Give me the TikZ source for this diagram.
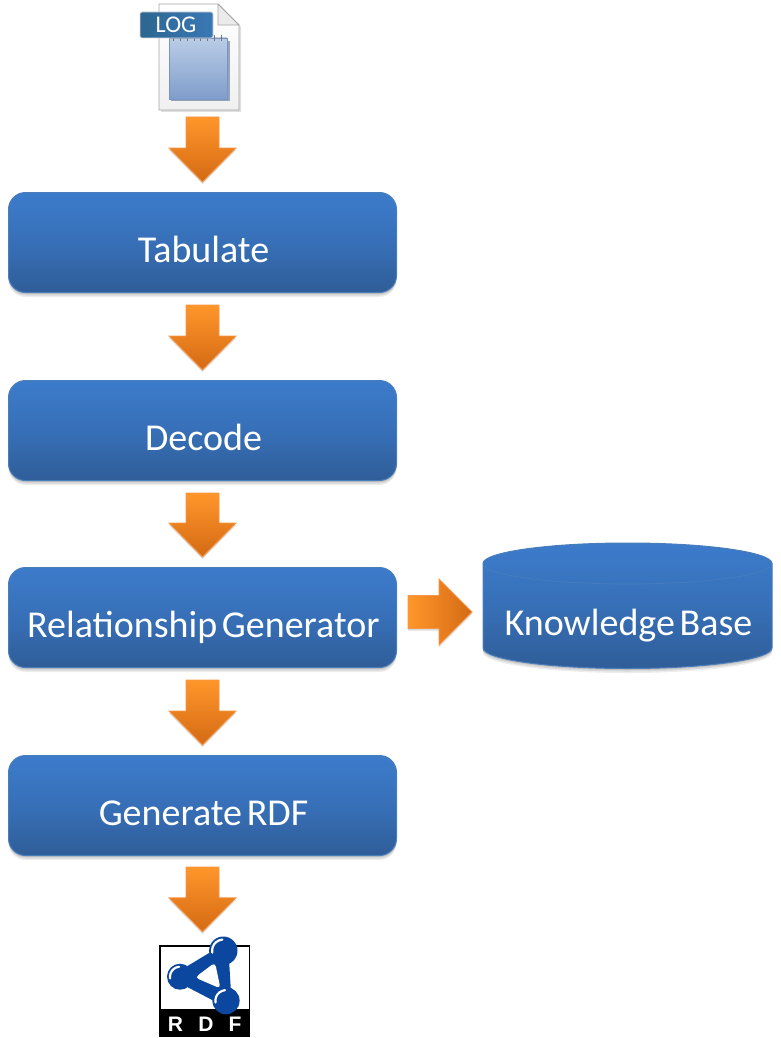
\documentclass[tikz,border=0pt]{standalone}
\usepackage{fontspec}
\setmainfont{Carlito}[WordSpace=0.55]
\newfontfamily\logofont{Liberation Sans}
\usetikzlibrary{calc,shadows}
\definecolor{blueTop}{HTML}{3C7BCB}
\definecolor{blueBot}{HTML}{2F5D98}
\definecolor{blueEdge}{HTML}{4A7EBB}
\definecolor{orTop}{HTML}{FF962A}
\definecolor{orBot}{HTML}{D46A14}
\definecolor{orEdge}{HTML}{F79646}
\definecolor{rdfBlue}{HTML}{0B479E}
\definecolor{padTop}{HTML}{B9CDE6}
\definecolor{padBot}{HTML}{7F9DCB}
\definecolor{padEdge}{HTML}{7C93BC}
\definecolor{tagLeft}{HTML}{2C6690}
\definecolor{tagRight}{HTML}{3A78B6}
\newcommand{\mainlabel}[2]{\raisebox{-#1pt}[0pt][0pt]{\hspace*{2pt}#2}}
\newcommand{\ballmark}[3]{%
  \draw[white,line width=2.2pt,line cap=round]
    (#1-0.985*#3+2.95,#2+0.174*#3-0.52) arc[start angle=190,end angle=95,radius=#3pt-3pt];}
\tikzset{
  softshadow/.style={
    general shadow={shadow xshift=0pt,shadow yshift=-1.5pt,fill=black,opacity=.10},
    general shadow={shadow xshift=0pt,shadow yshift=-3pt,fill=black,opacity=.09},
    general shadow={shadow xshift=0pt,shadow yshift=-4.5pt,fill=black,opacity=.07}},
  boxstyle/.style={softshadow,rounded corners=17pt,minimum width=388pt,minimum height=100pt,
    inner sep=0pt,draw=blueEdge,line width=1pt,top color=blueTop,bottom color=blueBot,
    middle color=blueTop!62!blueBot,text=white,font=\fontsize{38}{42}\selectfont},
  cylstyle/.style={softshadow,draw=blueEdge,line width=1pt,top color=blueTop,bottom color=blueBot,
    middle color=blueTop!62!blueBot},
  arrowV/.style={general shadow={shadow xshift=0pt,shadow yshift=-2pt,fill=black,opacity=.14},
    draw=orEdge,line width=.8pt,line join=miter,top color=orTop,bottom color=orBot},
  arrowH/.style={general shadow={shadow xshift=0pt,shadow yshift=-2pt,fill=black,opacity=.14},
    draw=orEdge,line width=.8pt,line join=miter,left color=orTop,right color=orBot},
  rdfletter/.style={inner sep=0pt,text=white,font=\logofont\bfseries\fontsize{21}{23}\selectfont}
}
\newcommand{\blockdown}[4]{%
  \coordinate (s) at ($(tabulate.north |- #1.south)+(0,#2)$);
  \coordinate (e) at ($(tabulate.north |- #3.north)+(0,-#4)$);
  \path[arrowV] ($(s)+(-16.5,0)$) -- ($(s)+(16.5,0)$) -- ($(e)+(16.5,-34)$) -- ($(e)+(33.5,-34)$)
     -- (e) -- ($(e)+(-33.5,-34)$) -- ($(e)+(-16.5,-34)$) -- cycle;}
\begin{document}
\begin{tikzpicture}[x=1pt,y=-1pt]
\useasboundingbox (0,0) rectangle (780,1038);

% ---------- process boxes
\node[boxstyle] (tabulate) at (202.5,242.5) {\mainlabel{19.5}{Tabulate}};
\node[boxstyle] (decode)   at (202.5,430.5) {\mainlabel{19.5}{Decode}};
\node[boxstyle] (relgen)   at (202.5,617.5) {\mainlabel{19.5}{Relationship Generator}};
\node[boxstyle] (genrdf)   at (202.5,805.5) {\mainlabel{19.5}{Generate RDF}};

% ---------- knowledge base cylinder
\path[cylstyle] (483,563.5) arc[start angle=180,end angle=0,x radius=144.5pt,y radius=20.5pt]
   -- (772,648) arc[start angle=0,end angle=-180,x radius=144.5pt,y radius=20.5pt] -- cycle;
\draw[blueEdge!80!blueTop,line width=.7pt] (483,563.5) arc[start angle=180,end angle=360,x radius=144.5pt,y radius=20.5pt];
\node[inner sep=0pt,minimum width=289pt,minimum height=125pt,text=white,font=\fontsize{38}{42}\selectfont]
  (kb) at (627.5,605.5) {\mainlabel{29.5}{Knowledge Base}};

% ---------- log file icon
\fill[black,opacity=.12] (161,6) -- (220,6) -- (241,27) -- (241,112) -- (161,112) -- cycle;
\path[draw=black!35,line width=.9pt,top color=white,bottom color=black!6]
  (159,4) -- (218,4) -- (239,25) -- (239,110) -- (159,110) -- cycle;
\path[draw=black!35,line width=.8pt,fill=black!8,line join=round] (218,4) -- (218,25) -- (239,25) -- cycle;
\fill[padBot!80!black!70!white] (171,41) rectangle (229.5,101.5);
\path[draw=padEdge,line width=.6pt,top color=padTop,bottom color=padBot] (169,38) rectangle (227,99);
\foreach \i in {0,...,7}{\draw[black!55,line width=.8pt] (173.5+6.8*\i,35.5) -- (173.5+6.8*\i,41);}
\path[draw=black!15,line width=.7pt,rounded corners=2pt,left color=tagLeft,right color=tagRight]
  (140,12) rectangle (213,38);
\node[inner sep=0pt,text=white,font=\fontsize{24}{26}\selectfont] (log) at (176,25) {LOG};
\coordinate (logbottom) at (199,110);

% ---------- RDF logo
\node[inner sep=0pt,minimum width=91pt,minimum height=92pt] (rdf) at (204.5,991) {};
\fill[black] (159,945) rectangle (250,1037);
\fill[white] (160.5,946.5) rectangle (248.5,1009);
\fill[rdfBlue,draw=rdfBlue,line width=11pt,line join=round] (180,977) -- (223,951) -- (226,1001) -- cycle;
\fill[white,rounded corners=4pt] (195,977.5) -- (215,962.5) -- (220.5,988.5) -- cycle;
\fill[rdfBlue] (223.3,950.7) circle[radius=14.2pt] (180,976.7) circle[radius=13pt] (226,1000.7) circle[radius=13.6pt];
\ballmark{223.3}{950.7}{14.2}
\ballmark{180}{976.7}{13}
\ballmark{226}{1000.7}{13.6}
\node[rdfletter] (rl) at (175.5,1024.5) {R};
\node[rdfletter] (dl) at (206,1024.5) {D};
\node[rdfletter] (fl) at (235,1024.5) {F};

% ---------- block arrows
\blockdown{logbottom}{7}{tabulate}{10}
\blockdown{tabulate}{12}{decode}{10}
\blockdown{decode}{12}{relgen}{10}
\blockdown{relgen}{12}{genrdf}{10}
\blockdown{genrdf}{11}{rdf}{13}
\coordinate (hs) at ($(relgen.east)+(11,-5.5)$);
\coordinate (he) at ($(relgen.east)+(75,-5.5)$);
\path[arrowH] ($(hs)+(0,-16.5)$) -- ($(hs)+(31,-16.5)$) -- ($(hs)+(31,-33)$) -- (he)
   -- ($(hs)+(31,33)$) -- ($(hs)+(31,16.5)$) -- ($(hs)+(0,16.5)$) -- cycle;
\end{tikzpicture}
\end{document}
